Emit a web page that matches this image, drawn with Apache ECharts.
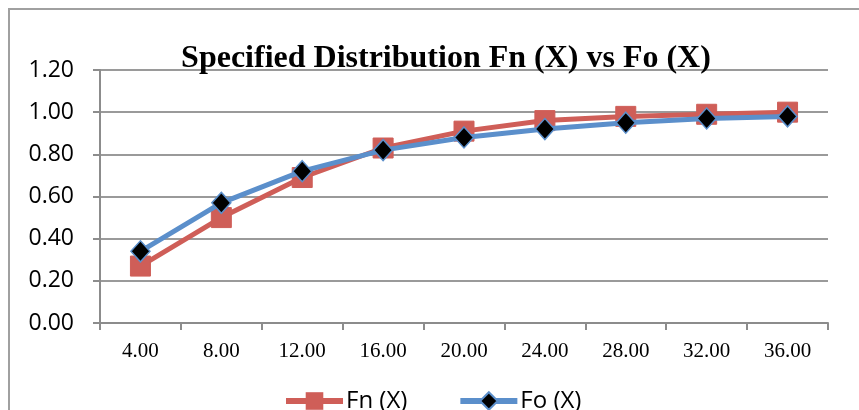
<!DOCTYPE html>
<html><head><meta charset="utf-8">
<script src="https://cdn.jsdelivr.net/npm/echarts@6/dist/echarts.min.js"></script>
<style>html,body{margin:0;padding:0;background:#fff}#c{width:859px;height:410px}</style>
</head><body><div id="c"></div>
<script>
const categories = ['4.00','8.00','12.00','16.00','20.00','24.00','28.00','32.00','36.00'];
const fnValues = [0.27, 0.50, 0.69, 0.83, 0.91, 0.96, 0.98, 0.99, 1.00];
const foValues = [0.34, 0.57, 0.72, 0.82, 0.88, 0.92, 0.95, 0.97, 0.98];
const yTicks = [0, 0.2, 0.4, 0.6, 0.8, 1.0, 1.2];

const chart = echarts.init(document.getElementById('c'), null, {renderer:'canvas'});
chart.setOption({
  animation:false,
  backgroundColor:'#fff',
  graphic:[{type:'rect', shape:{x:9,y:9,width:900,height:600}, style:{fill:'none', stroke:'#a0a0a0', lineWidth:2}, z:-1}],
  title:{text:'Specified Distribution Fn (X) vs Fo (X)', left:441, textAlign:'center', top:38,
    textStyle:{fontFamily:'Liberation Serif', fontWeight:'bold', fontSize:32, color:'#000'}},
  legend:{bottom:-8, left:278, itemGap:50, itemWidth:57, itemHeight:22,
    lineStyle:{width:6},
    textStyle:{fontFamily:'Open Sans', fontSize:24, color:'#000', padding:[0,0,0,-2]},
    data:['Fn (X)','Fo (X)']},
  grid:{left:100, right:31, top:70, bottom:87},
  xAxis:{type:'category', data:categories, boundaryGap:true,
    axisLine:{lineStyle:{color:'#8c8c8c', width:2}},
    axisTick:{show:true, length:7, alignWithLabel:false, lineStyle:{color:'#8c8c8c', width:2}},
    axisLabel:{fontFamily:'Liberation Serif', fontSize:21, color:'#000', margin:18}},
  yAxis:{type:'value', min:yTicks[0], max:yTicks[yTicks.length-1], interval:0.2,
    axisLine:{show:true, lineStyle:{color:'#8c8c8c', width:2}},
    axisTick:{show:true, length:7, lineStyle:{color:'#8c8c8c', width:2}},
    splitLine:{lineStyle:{color:'#9a9a9a', width:2}},
    axisLabel:{fontFamily:'Open Sans', fontSize:23, color:'#000', margin:26, formatter:v=>v.toFixed(2)}},
  series:[
    {name:'Fn (X)', type:'line', data:fnValues, symbol:'rect', symbolSize:20,
      lineStyle:{color:'#cf5e58', width:5}, itemStyle:{color:'#cf5e58', borderColor:'#cf5e58'}, z:2},
    {name:'Fo (X)', type:'line', data:foValues, symbol:'diamond', symbolSize:[19,21],
      lineStyle:{color:'#5b8fcb', width:5}, itemStyle:{color:'#000', borderColor:'#5b8fcb', borderWidth:1.5}, z:3}
  ]
});
</script></body></html>
